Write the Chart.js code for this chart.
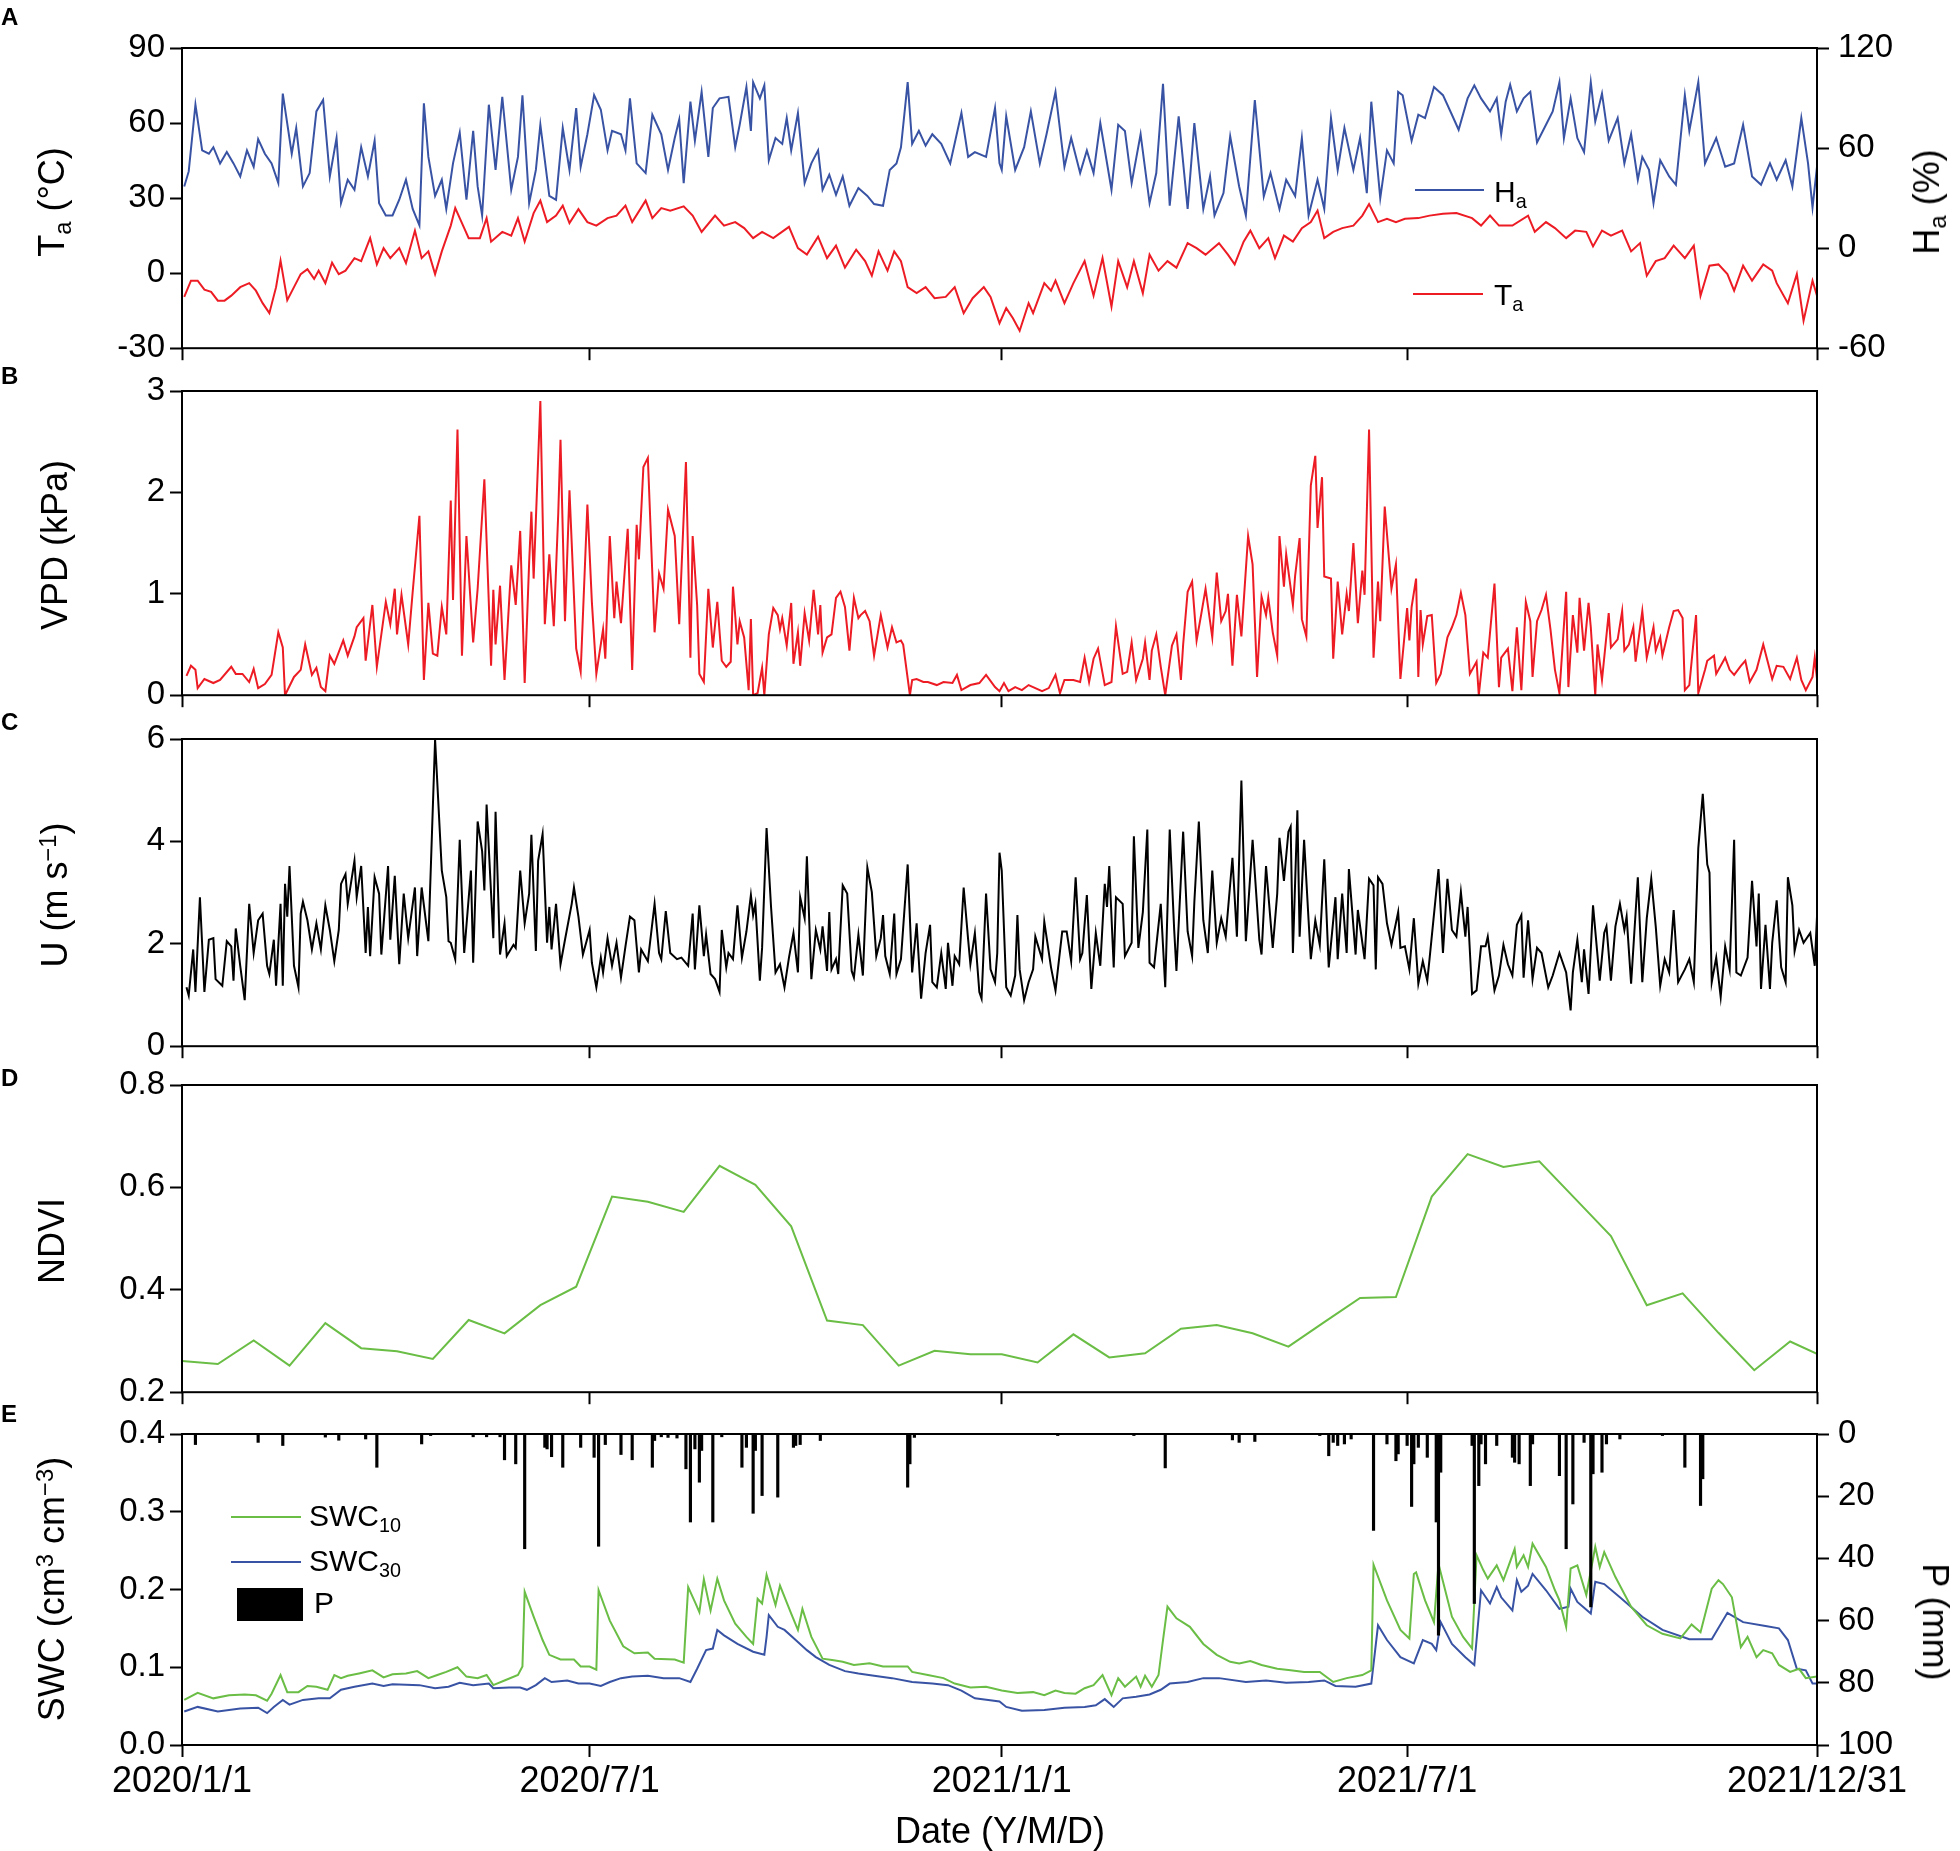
<!DOCTYPE html>
<html lang="en">
<head>
<meta charset="UTF-8" />
<title>Meteorological and soil time series, 2020-2021</title>
<script src="https://cdn.jsdelivr.net/npm/chart.js"></script>
<style>
  html, body { margin: 0; padding: 0; background: #fff; }
  body {
    width: 1960px; height: 1851px; position: relative; overflow: hidden;
    font-family: "Liberation Sans", Arial, sans-serif; color: #000;
  }
  canvas { position: absolute; left: 0; }
  .lbl { position: absolute; white-space: nowrap; line-height: 1; }
  .panel { font-weight: bold; font-size: 24px; left: 1px; }
  .ytitle { font-size: 36px; transform: translate(-50%, -50%) rotate(-90deg); }
  .ytitle.cw { transform: translate(-50%, -50%) rotate(90deg); }
  .key { font-size: 30px; }
  .xtitle { font-size: 36px; transform: translateX(-50%); }
  sub, sup { font-size: 0.66em; line-height: 0; position: relative; vertical-align: baseline; }
  sub { top: 0.3em; }
  sup { top: -0.45em; }
  .swatch { position: absolute; height: 2px; }
</style>
</head>
<body>
<canvas id="cA" width="1960" height="369" style="top:8px"></canvas>
<canvas id="cB" width="1960" height="369" style="top:351px"></canvas>
<canvas id="cC" width="1960" height="372" style="top:699px"></canvas>
<canvas id="cD" width="1960" height="372" style="top:1045px"></canvas>
<canvas id="cE" width="1960" height="421" style="top:1394px"></canvas>

<div class="lbl panel" style="top:5px">A</div>
<div class="lbl panel" style="top:364px">B</div>
<div class="lbl panel" style="top:710px">C</div>
<div class="lbl panel" style="top:1066px">D</div>
<div class="lbl panel" style="top:1402px">E</div>

<div class="lbl ytitle" style="left:52px; top:202px">T<sub>a</sub> (°C)</div>
<div class="lbl ytitle" style="left:55px; top:545px">VPD (kPa)</div>
<div class="lbl ytitle" style="left:55px; top:895px">U (m s<sup>−1</sup>)</div>
<div class="lbl ytitle" style="left:52px; top:1241px">NDVI</div>
<div class="lbl ytitle" style="left:52px; top:1589px">SWC (cm<sup>3</sup> cm<sup>−3</sup>)</div>
<div class="lbl ytitle" style="left:1927px; top:202px">H<sub>a</sub> (%)</div>
<div class="lbl ytitle cw" style="left:1935px; top:1622px">P (mm)</div>
<div class="lbl xtitle" style="left:1000px; top:1813px">Date (Y/M/D)</div>

<div class="swatch" style="left:1415px; top:189px; width:69px; background:#3953a4"></div>
<div class="lbl key" style="left:1494px; top:177px">H<sub>a</sub></div>
<div class="swatch" style="left:1413px; top:293px; width:70px; background:#ed1c24"></div>
<div class="lbl key" style="left:1494px; top:280px">T<sub>a</sub></div>

<div class="swatch" style="left:231px; top:1516px; width:70px; background:#6abd45"></div>
<div class="lbl key" style="left:309px; top:1501px">SWC<sub>10</sub></div>
<div class="swatch" style="left:231px; top:1561px; width:70px; background:#3953a4"></div>
<div class="lbl key" style="left:309px; top:1546px">SWC<sub>30</sub></div>
<div class="swatch" style="left:237px; top:1588px; width:66px; height:33px; background:#000"></div>
<div class="lbl key" style="left:314px; top:1588px">P</div>

<script>
// x positions are days since 2020/1/1
const xTickDays = [0, 182, 366, 547, 730];
const xTickLabels = ['2020/1/1', '2020/7/1', '2021/1/1', '2021/7/1', '2021/12/31'];

const taTicks = [-30, 0, 30, 60, 90];
const haTicks = [-60, 0, 60, 120];
const vpdTicks = [0, 1, 2, 3];
const uTicks = [0, 2, 4, 6];
const ndviTicks = [0.2, 0.4, 0.6, 0.8];
const swcTicks = [0, 0.1, 0.2, 0.3, 0.4];
const pTicks = [0, 20, 40, 60, 80, 100];

// air temperature, °C  [day, value]
const taPts = [[1,-9.5],[4,-3],[7,-3],[10,-6.6],[13,-7.5],[16,-11],[19,-11],[22,-9],[26,-5.6],[30,-4],[33,-7],[36,-12],[39,-16],[42,-5.6],[44,5],[47,-10.8],[50,-5.6],[53,-0.4],[56,1.6],[59,-2.3],[61,1],[64,-4],[67,4.2],[70,-0.4],[73,1],[77,6],[80,4.8],[84,14],[87,3.5],[90,10],[93,6],[97,10],[100,4],[104,17],[107,6],[110,8.7],[113,-0.4],[116,8.7],[120,19],[122,26],[126,18],[128,14],[133,14],[136,22],[138,12.6],[143,16.5],[147,15],[150,22],[153,12.6],[157,24],[160,29],[163,20.4],[167,23],[170,27],[173,20],[177,25.6],[181,20.4],[185,19],[190,22],[194,23],[198,27],[201,20.4],[207,29],[210,22],[214,26],[218,25],[224,26.7],[228,23],[232,16.5],[238,23],[242,19],[247,20.4],[251,18],[255,14],[259,16.5],[264,14],[271,18.5],[275,10],[279,7.4],[284,14.6],[288,6],[292,11],[296,2.2],[301,9.4],[305,4.8],[308,-1],[311,8.7],[315,1],[318,8.7],[321,4.8],[324,-5.6],[328,-8],[332,-5.6],[336,-10],[341,-9.5],[345,-5.6],[349,-16],[353,-10],[358,-5.6],[361,-9.5],[365,-20],[368,-14],[371,-18],[374,-23],[378,-12],[380,-16],[385,-4],[388,-7],[390,-3],[394,-12],[398,-4],[403,4.8],[407,-9],[411,6],[415,-13.4],[418,4.8],[422,-5.6],[425,4.8],[429,-8],[432,7.4],[436,1],[440,4.8],[444,2.2],[449,12],[453,10],[457,7.4],[463,12],[467,7.4],[470,3.5],[474,12.6],[477,17],[481,10],[485,14],[488,6],[492,15],[496,12.6],[500,18],[504,20.4],[507,25],[510,14],[514,16.5],[518,18],[523,19],[527,23],[530,27.6],[534,20.4],[538,21.7],[542,20.4],[546,21.7],[552,22],[557,23],[563,23.7],[569,24],[576,22],[580,19],[584,23],[588,19],[594,19],[601,23],[604,16.5],[609,20.4],[613,18],[618,14],[622,17],[627,16.5],[630,10.7],[634,17],[638,15],[643,17],[647,8.7],[651,12],[654,-1],[658,4.8],[662,6],[666,11],[671,6],[675,11],[678,-9],[682,3],[686,3.5],[690,-0.4],[693,-7],[697,3],[701,-3],[706,3.5],[710,1],[712,-4],[717,-12],[721,-0.4],[724,-19],[728,-3],[730,-9]];

// relative humidity, %
const haPts = [[1,37],[3,46],[6,86],[9,58.6],[12,56.6],[14,60.5],[17,50.8],[20,57.6],[23,50.8],[26,43],[29,58.6],[32,48.8],[34,65.4],[37,56.6],[40,50.8],[43,39],[45,92.7],[49,56.6],[51,72],[54,37],[57,45],[60,82],[63,88.8],[66,43],[69,66],[71,27],[74,41],[77,35],[80,60.5],[83,43],[86,64.4],[88,27],[91,19.6],[94,19.6],[97,29],[100,41],[103,23.5],[106,13.7],[108,86.8],[110,54.7],[113,31.3],[116,41],[118,23.5],[121,50.8],[124,69.3],[127,29],[130,70.3],[132,37],[134,19.6],[137,86],[140,46.9],[143,90.7],[147,35],[150,54.7],[152,91.7],[155,27],[158,46.9],[160,74],[164,31.3],[167,29],[170,72],[173,46.9],[176,84],[178,48.8],[181,68.3],[184,91.7],[187,83],[190,58.6],[192,70.3],[196,68.3],[198,58.6],[200,89.8],[203,50.8],[207,45],[210,80],[214,68.3],[217,46.9],[220,66],[222,77],[224,39],[227,87.8],[229,64.4],[232,93.7],[235,54.7],[237,84],[240,89.8],[244,90.7],[247,60.5],[249,74],[252,96.6],[254,70.3],[255,99.5],[258,89.8],[260,97.6],[262,52.7],[265,66],[268,62.5],[270,78],[272,58.6],[275,81],[278,39],[281,50.8],[284,58.6],[286,35],[289,44],[292,32],[295,43],[298,25.4],[302,36],[306,31.3],[309,26.4],[313,25.4],[316,46.9],[319,50.8],[321,60.5],[324,99.5],[326,62.5],[329,70.3],[332,61.5],[335,68.3],[339,62.5],[343,50.8],[348,81],[351,54.7],[354,57.6],[359,54.7],[363,84],[365,50.8],[366,46.9],[368,79],[372,46.9],[376,60.5],[379,82],[383,50.8],[386,68.3],[390,93.7],[394,48.8],[397,66],[401,45],[404,58.6],[407,45],[410,75],[415,35],[418,74],[421,70.3],[424,39],[428,68.3],[432,27],[435,45],[438,98.5],[441,25.4],[445,79],[449,23.5],[452,75],[456,23.5],[459,43],[461,19.6],[465,33],[468,67],[472,37],[475,19.6],[479,88.8],[483,31],[486,45],[490,23.5],[493,41],[497,31.3],[500,66],[503,19.6],[507,41],[510,23.5],[513,78],[516,46.9],[519,72],[523,46.9],[526,66],[529,33],[531,87.8],[535,30],[538,58.6],[541,50.8],[543,93.7],[545,91.7],[549,64.4],[552,80],[555,78],[559,96.6],[563,91.7],[567,80],[570,71],[574,89.8],[577,97.6],[580,89.8],[584,82],[587,89.8],[589,68.3],[591,87.8],[593,98],[596,82],[599,89.8],[602,93.7],[605,63.4],[609,74],[612,82],[615,99.5],[617,66],[620,89.8],[623,66],[626,57.6],[629,99.5],[631,76],[634,92.7],[637,64.4],[641,78],[644,50.8],[647,68.3],[650,41],[652,54.7],[655,46.9],[657,27],[660,52.7],[664,43],[667,38],[671,91.7],[673,70.3],[677,99.5],[680,50.8],[685,66],[689,48.8],[693,50.8],[697,74],[701,43],[705,38],[709,50.8],[712,41],[716,52.7],[719,37],[723,78],[726,50.8],[728,24.4],[730,48.8]];

// vapour pressure deficit, kPa
const vpdPts = [[2,0.19],[4,0.29],[6,0.25],[7,0.07],[10,0.16],[14,0.12],[17,0.15],[22,0.28],[24,0.21],[27,0.21],[30,0.13],[32,0.26],[34,0.07],[37,0.11],[40,0.2],[43,0.62],[45,0.47],[46,0],[50,0.18],[53,0.25],[55,0.5],[58,0.2],[60,0.27],[62,0.08],[64,0.04],[66,0.39],[68,0.31],[72,0.54],[74,0.39],[77,0.58],[78,0.67],[81,0.76],[82,0.34],[85,0.89],[87,0.28],[91,0.92],[93,0.7],[95,1.05],[96,0.6],[98,0.99],[101,0.5],[103,1.02],[106,1.77],[108,0.15],[110,0.91],[112,0.41],[114,0.39],[116,0.87],[118,0.6],[120,1.92],[121,0.94],[123,2.62],[125,0.39],[127,1.57],[130,0.52],[132,1.05],[135,2.13],[138,0.29],[139,1.04],[140,0.5],[142,1.08],[144,0.15],[147,1.28],[149,0.89],[151,1.62],[153,0.12],[155,1.31],[156,1.81],[157,1.15],[160,2.9],[162,0.7],[164,1.39],[166,0.68],[168,1.8],[169,2.52],[171,0.73],[173,2.02],[176,0.46],[178,0.23],[181,1.88],[183,0.92],[185,0.21],[188,0.65],[189,0.36],[191,1.57],[193,0.76],[194,1.12],[196,0.71],[199,1.64],[201,0.25],[203,1.68],[204,1.34],[206,2.25],[208,2.34],[211,0.62],[213,1.2],[215,1.05],[217,1.83],[220,1.57],[222,0.7],[225,2.3],[227,0.37],[228,1.57],[230,0.89],[231,0.21],[233,0.13],[235,1.05],[237,0.47],[239,0.92],[241,0.34],[243,0.28],[245,0.33],[246,1.07],[248,0.5],[249,0.73],[251,0.57],[253,0.05],[254,0.75],[255,0],[257,0.02],[259,0.27],[260,0],[262,0.6],[264,0.86],[266,0.79],[267,0.65],[268,0.76],[270,0.49],[272,0.91],[273,0.31],[275,0.62],[276,0.29],[278,0.81],[280,0.54],[282,1.04],[284,0.6],[285,0.89],[286,0.42],[288,0.57],[290,0.6],[292,0.96],[294,1.02],[296,0.87],[298,0.44],[300,0.96],[302,0.76],[303,0.79],[305,0.83],[307,0.73],[309,0.39],[312,0.79],[315,0.47],[317,0.67],[319,0.52],[321,0.54],[322,0.5],[325,0],[326,0.15],[328,0.16],[331,0.13],[333,0.13],[337,0.1],[340,0.13],[344,0.12],[346,0.2],[348,0.05],[352,0.1],[356,0.12],[359,0.2],[363,0.08],[365,0.04],[367,0.12],[369,0.04],[372,0.08],[375,0.05],[378,0.1],[380,0.08],[384,0.04],[387,0.07],[390,0.2],[392,0.02],[394,0.15],[398,0.15],[401,0.13],[403,0.37],[405,0.13],[407,0.36],[409,0.46],[412,0.1],[415,0.13],[417,0.68],[420,0.21],[422,0.23],[424,0.52],[426,0.15],[429,0.36],[430,0.52],[432,0.15],[433,0.44],[435,0.6],[437,0.28],[439,0],[442,0.49],[444,0.6],[446,0.15],[447,0.5],[449,1.02],[451,1.12],[453,0.54],[455,0.79],[457,1.05],[459,0.73],[460,0.57],[462,1.21],[464,0.73],[466,0.83],[467,1],[469,0.29],[471,0.99],[473,0.58],[476,1.57],[478,1.29],[480,0.18],[482,0.97],[484,0.79],[485,0.96],[487,0.62],[489,0.39],[490,1.57],[492,1.07],[493,1.39],[496,0.89],[497,1.18],[499,1.55],[500,0.75],[502,0.58],[504,2.07],[506,2.36],[507,1.65],[509,2.15],[510,1.17],[513,1.15],[514,0.36],[516,1.12],[518,0.6],[520,1],[521,0.83],[523,1.5],[525,0.71],[527,1.23],[528,0.99],[530,2.62],[532,0.37],[534,1.12],[535,0.73],[537,1.86],[540,1.05],[542,1.29],[544,0.16],[547,0.86],[548,0.54],[549,0.87],[551,1.15],[552,0.18],[553,0.84],[554,0.5],[556,0.78],[558,0.79],[560,0.12],[562,0.21],[565,0.57],[567,0.67],[569,0.79],[571,1.01],[573,0.79],[575,0.21],[578,0.33],[579,0],[581,0.42],[583,0.37],[586,1.1],[588,0.08],[589,0.37],[592,0.46],[594,0.04],[596,0.67],[598,0.05],[600,0.92],[602,0.73],[603,0.18],[605,0.73],[607,0.84],[609,0.99],[611,0.65],[613,0.25],[615,0.02],[618,1.02],[619,0.08],[621,0.79],[623,0.42],[624,0.96],[626,0.44],[628,0.91],[629,0.67],[631,0],[632,0.5],[634,0.15],[637,0.81],[638,0.47],[641,0.55],[643,0.83],[644,0.44],[646,0.5],[648,0.67],[649,0.33],[652,0.83],[654,0.37],[657,0.67],[658,0.44],[660,0.57],[661,0.39],[664,0.67],[666,0.83],[668,0.84],[670,0.76],[671,0.05],[673,0.1],[676,0.79],[677,0.02],[680,0.25],[681,0.34],[684,0.39],[685,0.21],[689,0.37],[691,0.25],[693,0.2],[696,0.29],[698,0.34],[700,0.13],[703,0.25],[706,0.5],[708,0.33],[710,0.16],[712,0.29],[715,0.28],[718,0.16],[721,0.37],[723,0.15],[725,0.05],[728,0.18],[729,0.37],[730,0.16]];

// wind speed, m/s
const uPts = [[2,1.15],[3,0.99],[5,1.89],[6,1.06],[8,2.91],[10,1.06],[12,2.08],[14,2.11],[15,1.31],[18,1.18],[20,2.05],[22,1.95],[23,1.28],[24,2.3],[26,1.57],[28,0.9],[30,2.78],[32,1.82],[34,2.46],[36,2.59],[38,1.57],[39,1.41],[41,2.08],[42,1.18],[44,2.78],[45,1.18],[46,3.17],[47,2.53],[48,3.52],[50,1.57],[52,1.15],[53,2.59],[54,2.82],[56,2.46],[58,1.89],[60,2.4],[62,1.89],[64,2.75],[66,2.27],[68,1.66],[70,2.27],[71,3.17],[73,3.36],[74,2.78],[77,3.62],[78,2.91],[80,3.52],[82,1.82],[83,2.72],[84,1.76],[86,3.3],[88,2.98],[89,1.79],[92,3.52],[93,2.08],[95,3.33],[97,1.6],[99,2.98],[101,2.11],[104,3.1],[105,1.76],[107,3.1],[110,2.05],[113,5.99],[116,3.43],[118,2.91],[119,2.05],[120,2.02],[122,1.7],[124,4.03],[126,1.82],[129,3.43],[130,1.63],[132,4.39],[134,3.81],[135,3.04],[136,4.72],[139,2.11],[140,4.58],[142,1.79],[144,2.4],[145,1.76],[148,1.98],[149,1.92],[151,3.43],[153,2.4],[155,2.98],[156,4.13],[158,1.86],[159,3.62],[161,4.14],[163,2.02],[164,2.72],[165,1.89],[167,2.78],[169,1.6],[171,2.08],[174,2.78],[175,3.1],[177,2.53],[179,1.79],[182,2.27],[183,1.63],[185,1.15],[187,1.73],[188,1.44],[190,2.11],[192,1.57],[194,2.02],[196,1.34],[198,1.95],[200,2.53],[202,2.46],[204,1.44],[205,1.89],[208,1.66],[211,2.78],[213,1.82],[214,1.7],[216,2.64],[218,1.82],[221,1.7],[223,1.73],[226,1.57],[228,2.59],[229,1.5],[231,2.75],[233,1.76],[234,2.18],[236,1.41],[238,1.31],[240,1.06],[241,2.27],[243,1.54],[244,1.82],[246,1.7],[248,2.75],[250,1.73],[252,2.24],[254,2.95],[255,2.56],[256,2.78],[258,1.28],[259,1.92],[261,4.26],[263,2.72],[265,1.44],[267,1.6],[269,1.15],[271,1.73],[273,2.21],[275,1.44],[276,2.91],[278,2.5],[279,3.71],[281,1.31],[283,2.27],[285,1.89],[286,2.34],[288,1.47],[289,2.62],[290,1.5],[292,1.7],[293,1.41],[295,3.14],[297,2.98],[299,1.47],[300,1.34],[302,2.18],[304,1.38],[306,3.49],[308,3.01],[310,1.76],[312,2.11],[313,2.56],[314,1.76],[316,1.41],[318,2.59],[319,1.41],[321,1.7],[324,3.55],[326,1.44],[328,2.4],[330,0.93],[332,1.82],[334,2.37],[335,1.25],[337,1.15],[339,1.82],[341,1.12],[342,2.02],[344,1.18],[345,1.76],[347,1.6],[349,3.1],[351,2.08],[352,1.6],[354,2.21],[356,1.06],[357,0.93],[359,2.98],[361,1.5],[363,1.25],[364,1.82],[365,3.78],[366,3.43],[368,1.15],[370,0.99],[372,1.38],[373,2.56],[374,1.5],[376,0.9],[378,1.25],[380,1.5],[381,2.14],[384,1.7],[385,2.43],[388,1.54],[390,1.09],[393,2.24],[395,2.24],[397,1.66],[399,3.3],[401,1.7],[402,1.82],[404,2.95],[406,1.12],[408,2.21],[410,1.57],[412,3.17],[413,2.72],[414,3.52],[416,1.54],[417,2.91],[420,2.78],[421,1.76],[424,2.02],[425,4.1],[427,1.92],[429,2.62],[431,4.23],[432,1.63],[434,1.54],[437,2.78],[439,1.15],[441,4.23],[443,2.27],[444,1.47],[447,4.19],[449,2.24],[451,1.76],[452,2.82],[454,4.39],[456,2.46],[458,1.82],[460,3.43],[462,2.02],[464,2.5],[466,2.14],[469,3.68],[471,2.14],[473,5.19],[475,2.05],[478,4.03],[481,2.08],[482,1.79],[484,3.52],[487,1.92],[489,2.98],[490,4.07],[492,3.23],[494,4.19],[495,4.29],[496,1.82],[498,4.61],[499,2.14],[501,4.03],[503,2.46],[504,1.7],[506,2.46],[508,1.98],[510,3.65],[512,1.54],[515,2.91],[516,1.7],[518,2.98],[520,1.82],[521,3.46],[524,1.79],[525,2.66],[528,1.7],[530,3.27],[532,3.14],[533,1.5],[534,3.3],[536,3.17],[538,2.4],[540,1.98],[543,2.62],[544,1.92],[546,1.95],[548,1.5],[550,2.5],[552,1.22],[554,1.66],[556,1.28],[557,1.7],[561,3.46],[563,1.82],[565,3.27],[567,2.27],[569,2.14],[571,3.01],[573,2.14],[574,2.72],[576,1.02],[578,1.09],[580,1.95],[582,1.95],[583,2.14],[586,1.09],[588,1.38],[590,1.98],[592,1.6],[594,1.38],[596,2.37],[598,2.56],[599,1.34],[601,2.46],[603,1.31],[605,1.92],[607,1.82],[610,1.15],[612,1.38],[615,1.82],[618,1.44],[620,0.7],[621,1.44],[623,2.08],[625,1.25],[626,1.89],[628,1.02],[630,2.75],[633,1.28],[635,2.21],[636,2.34],[638,1.28],[640,2.34],[642,2.78],[644,2.27],[645,2.53],[647,1.22],[650,3.3],[652,1.25],[654,2.5],[656,3.27],[658,2.34],[660,1.18],[662,1.7],[664,1.44],[666,2.66],[668,1.25],[671,1.5],[673,1.7],[675,1.25],[677,3.87],[679,4.93],[681,3.55],[682,3.39],[683,1.25],[685,1.73],[687,0.96],[689,1.95],[691,1.5],[693,4.03],[694,1.44],[696,1.38],[699,1.73],[701,3.23],[703,1.95],[704,2.98],[705,1.12],[707,2.37],[709,1.12],[710,2.02],[712,2.85],[714,1.54],[716,1.25],[717,3.3],[719,2.75],[720,1.86],[722,2.27],[724,2.02],[727,2.21],[729,1.57],[730,2.53]];

// NDVI, 16-day composites
const ndviPts = [[0,0.261],[16,0.255],[32,0.301],[48,0.252],[64,0.335],[80,0.286],[96,0.28],[112,0.265],[128,0.341],[144,0.315],[160,0.37],[176,0.406],[192,0.582],[208,0.572],[224,0.552],[240,0.642],[256,0.605],[272,0.524],[288,0.34],[304,0.331],[320,0.252],[336,0.281],[352,0.274],[366,0.274],[382,0.258],[398,0.313],[414,0.268],[430,0.276],[446,0.324],[462,0.331],[478,0.315],[494,0.289],[510,0.337],[526,0.384],[542,0.386],[558,0.582],[574,0.665],[590,0.64],[606,0.651],[622,0.578],[638,0.505],[654,0.37],[670,0.393],[686,0.316],[702,0.243],[718,0.299],[730,0.275]];

// soil water content at 10 cm and 30 cm, cm3 cm-3
const swc10Pts = [[1,0.058],[7,0.067],[14,0.06],[21,0.064],[28,0.065],[33,0.064],[38,0.057],[40,0.066],[44,0.09],[47,0.068],[52,0.068],[56,0.076],[60,0.075],[65,0.071],[68,0.09],[71,0.086],[74,0.089],[79,0.092],[85,0.096],[90,0.087],[94,0.091],[100,0.092],[105,0.095],[110,0.086],[114,0.09],[118,0.094],[123,0.1],[127,0.088],[132,0.086],[136,0.09],[139,0.077],[144,0.083],[150,0.09],[152,0.101],[153,0.197],[157,0.165],[161,0.135],[164,0.116],[169,0.11],[175,0.11],[178,0.101],[182,0.101],[185,0.097],[186,0.199],[191,0.16],[197,0.127],[202,0.118],[208,0.119],[211,0.111],[220,0.11],[224,0.106],[226,0.203],[229,0.184],[231,0.171],[233,0.213],[235,0.186],[236,0.173],[239,0.214],[242,0.186],[247,0.156],[252,0.139],[255,0.13],[257,0.188],[259,0.182],[261,0.219],[265,0.18],[267,0.205],[272,0.169],[275,0.148],[277,0.175],[281,0.139],[286,0.111],[291,0.109],[295,0.107],[300,0.103],[307,0.105],[313,0.101],[319,0.101],[324,0.101],[326,0.094],[333,0.09],[340,0.086],[345,0.079],[352,0.074],[359,0.075],[366,0.07],[373,0.067],[380,0.068],[385,0.064],[390,0.07],[394,0.067],[399,0.066],[403,0.073],[407,0.077],[411,0.09],[415,0.064],[418,0.086],[421,0.075],[426,0.088],[428,0.075],[430,0.089],[433,0.075],[436,0.09],[438,0.135],[440,0.178],[444,0.163],[450,0.152],[456,0.13],[462,0.116],[468,0.107],[472,0.105],[477,0.108],[482,0.103],[489,0.098],[495,0.096],[501,0.094],[508,0.094],[514,0.081],[520,0.086],[527,0.09],[531,0.096],[532,0.232],[538,0.186],[544,0.148],[548,0.137],[550,0.22],[551,0.222],[555,0.186],[559,0.158],[561,0.233],[564,0.199],[567,0.165],[572,0.139],[576,0.124],[578,0.244],[581,0.225],[583,0.214],[587,0.231],[590,0.212],[595,0.252],[596,0.229],[599,0.244],[601,0.229],[603,0.259],[609,0.229],[613,0.199],[615,0.186],[618,0.152],[620,0.227],[623,0.231],[627,0.193],[631,0.255],[633,0.229],[635,0.248],[640,0.216],[647,0.178],[654,0.154],[661,0.143],[669,0.137],[674,0.155],[678,0.145],[683,0.201],[686,0.212],[688,0.207],[692,0.19],[696,0.126],[699,0.139],[703,0.113],[706,0.122],[710,0.118],[713,0.103],[718,0.094],[722,0.098],[725,0.086],[730,0.088]];

const swc30Pts = [[1,0.043],[7,0.049],[16,0.043],[26,0.047],[34,0.048],[38,0.041],[41,0.049],[45,0.058],[48,0.052],[54,0.058],[61,0.06],[66,0.06],[71,0.071],[77,0.075],[85,0.079],[90,0.076],[94,0.078],[106,0.077],[113,0.073],[119,0.075],[124,0.08],[130,0.077],[137,0.079],[139,0.073],[146,0.074],[151,0.074],[154,0.071],[158,0.077],[162,0.086],[165,0.081],[172,0.083],[177,0.079],[182,0.079],[187,0.076],[191,0.081],[196,0.086],[201,0.088],[208,0.089],[215,0.086],[222,0.086],[227,0.081],[230,0.098],[234,0.122],[237,0.124],[239,0.148],[242,0.141],[248,0.13],[255,0.12],[260,0.116],[261,0.139],[262,0.167],[266,0.152],[269,0.148],[274,0.135],[279,0.122],[283,0.113],[289,0.103],[296,0.095],[302,0.092],[309,0.089],[317,0.086],[326,0.081],[335,0.079],[342,0.077],[348,0.07],[354,0.06],[360,0.058],[365,0.056],[368,0.049],[375,0.044],[385,0.045],[394,0.048],[403,0.049],[408,0.051],[412,0.059],[416,0.049],[420,0.06],[426,0.062],[432,0.065],[437,0.071],[441,0.079],[449,0.081],[456,0.086],[463,0.086],[475,0.081],[484,0.083],[493,0.08],[503,0.081],[510,0.083],[515,0.076],[524,0.075],[531,0.079],[534,0.154],[538,0.135],[544,0.113],[550,0.105],[554,0.135],[558,0.13],[560,0.122],[562,0.158],[567,0.13],[573,0.113],[577,0.103],[580,0.199],[584,0.182],[587,0.203],[589,0.19],[594,0.173],[596,0.212],[598,0.197],[601,0.205],[603,0.22],[609,0.199],[615,0.175],[619,0.178],[620,0.201],[623,0.184],[629,0.169],[631,0.21],[635,0.207],[642,0.19],[652,0.165],[661,0.148],[673,0.136],[683,0.136],[690,0.17],[697,0.158],[707,0.153],[713,0.15],[717,0.135],[721,0.098],[725,0.096],[728,0.079],[730,0.079]];

// daily precipitation, mm
const pPts = [[6,3.4],[34,2.7],[45,3.7],[64,1],[70,2],[82,1.6],[87,10.7],[107,3.2],[111,0.5],[130,0.9],[136,0.9],[142,0.9],[144,8.3],[149,9.6],[153,36.9],[162,4.3],[163,4.8],[165,7.3],[170,10.7],[178,4.3],[184,7.5],[186,36.1],[189,3.4],[196,6.6],[201,8.3],[210,10.7],[211,2.1],[214,0.9],[217,1.1],[221,1.3],[225,11.2],[227,28.3],[229,4.8],[231,15.5],[232,5.3],[237,28.3],[241,0.9],[250,10.7],[252,4.3],[255,25.5],[256,5.3],[259,19.8],[266,20.3],[273,4.3],[274,3.7],[276,3.4],[285,2.1],[324,17.1],[325,9.6],[327,1.1],[348,0.2],[391,0.5],[425,0.5],[439,10.9],[469,1.9],[472,2.7],[479,2.4],[508,0.5],[512,7],[514,2.7],[516,3.7],[519,3.2],[522,1.6],[532,31],[538,3.2],[542,8.6],[543,6.4],[547,3.7],[549,23.3],[550,9.6],[552,4.3],[556,7.5],[560,28.3],[561,64.7],[562,12.3],[576,3.7],[577,54.5],[579,16.6],[580,3.2],[582,9.6],[587,3.7],[594,7.5],[595,9.1],[597,9.6],[602,16.6],[603,3.2],[615,13.4],[618,36.9],[621,22.5],[626,2.7],[629,55.6],[630,12.8],[634,12.3],[636,3.2],[642,1.6],[661,0.5],[671,10.7],[678,23],[679,14.4]];

const FONT = '"Liberation Sans", Arial, sans-serif';
const RED = '#ed1c24', BLUE = '#3953a4', GREEN = '#6abd45';
const LEFT = 182, RIGHT = 143;

// full box round each panel
const framePlugin = {
  id: 'frame',
  afterDraw(chart) {
    const { ctx, chartArea: a } = chart;
    ctx.save();
    ctx.strokeStyle = '#000';
    ctx.lineWidth = 2;
    ctx.strokeRect(a.left, a.top, a.right - a.left, a.bottom - a.top);
    ctx.restore();
  }
};

function xAxis(showLabels, height) {
  return {
    type: 'linear', min: 0, max: 730, offset: false,
    afterBuildTicks: s => { s.ticks = xTickDays.map(v => ({ value: v })); },
    afterFit: s => { s.height = height; },
    grid: { offset: false, drawOnChartArea: false, tickLength: 12, tickWidth: 2, tickColor: '#000' },
    border: { display: false },
    ticks: {
      display: showLabels, autoSkip: false, maxRotation: 0, padding: 3, color: '#000',
      font: { family: FONT, size: 36 },
      callback: v => xTickLabels[xTickDays.indexOf(v)]
    }
  };
}

function yAxis(pos, ticks, digits, extra) {
  return Object.assign({
    type: 'linear', position: pos, min: ticks[0], max: ticks[ticks.length - 1],
    afterBuildTicks: s => { s.ticks = ticks.map(v => ({ value: v })); },
    afterFit: s => { s.width = pos === 'left' ? LEFT : RIGHT; },
    grid: { drawOnChartArea: false, tickLength: 12, tickWidth: 2, tickColor: '#000' },
    border: { display: false },
    ticks: {
      color: '#000', padding: pos === 'left' ? 5 : 9,
      font: { family: FONT, size: 33 },
      callback: v => v.toFixed(digits)
    }
  }, extra || {});
}

function line(pts, color, axis) {
  return {
    type: 'line', data: pts.map(p => ({ x: p[0], y: p[1] })), yAxisID: axis,
    borderColor: color, borderWidth: 2, pointRadius: 0, tension: 0, fill: false, order: 1
  };
}

function panel(id, datasets, scales, hasRight) {
  new Chart(document.getElementById(id), {
    type: 'line',
    data: { datasets },
    options: {
      responsive: false, animation: false, events: [],
      layout: { padding: { top: 40, right: hasRight ? 0 : RIGHT, left: 0, bottom: 0 } },
      plugins: { legend: { display: false }, tooltip: { enabled: false } },
      scales
    },
    plugins: [framePlugin]
  });
}

panel('cA',
  [line(haPts, BLUE, 'yH'), line(taPts, RED, 'y')],
  { x: xAxis(false, 20), y: yAxis('left', taTicks, 0), yH: yAxis('right', haTicks, 0) },
  true);

panel('cB', [line(vpdPts, RED, 'y')],
  { x: xAxis(false, 20), y: yAxis('left', vpdTicks, 0) }, false);

panel('cC', [line(uPts, '#000', 'y')],
  { x: xAxis(false, 20), y: yAxis('left', uTicks, 0) }, false);

panel('cD', [line(ndviPts, GREEN, 'y')],
  { x: xAxis(false, 20), y: yAxis('left', ndviTicks, 1) }, false);

panel('cE',
  [
    line(swc10Pts, GREEN, 'y'),
    line(swc30Pts, BLUE, 'y'),
    {
      type: 'bar', data: pPts.map(p => ({ x: p[0], y: p[1] })), yAxisID: 'yP',
      backgroundColor: '#000', borderWidth: 0, barThickness: 2.5, grouped: false, order: 0
    }
  ],
  { x: xAxis(true, 70), y: yAxis('left', swcTicks, 1), yP: yAxis('right', pTicks, 0, { reverse: true }) },
  true);
</script>
</body>
</html>
